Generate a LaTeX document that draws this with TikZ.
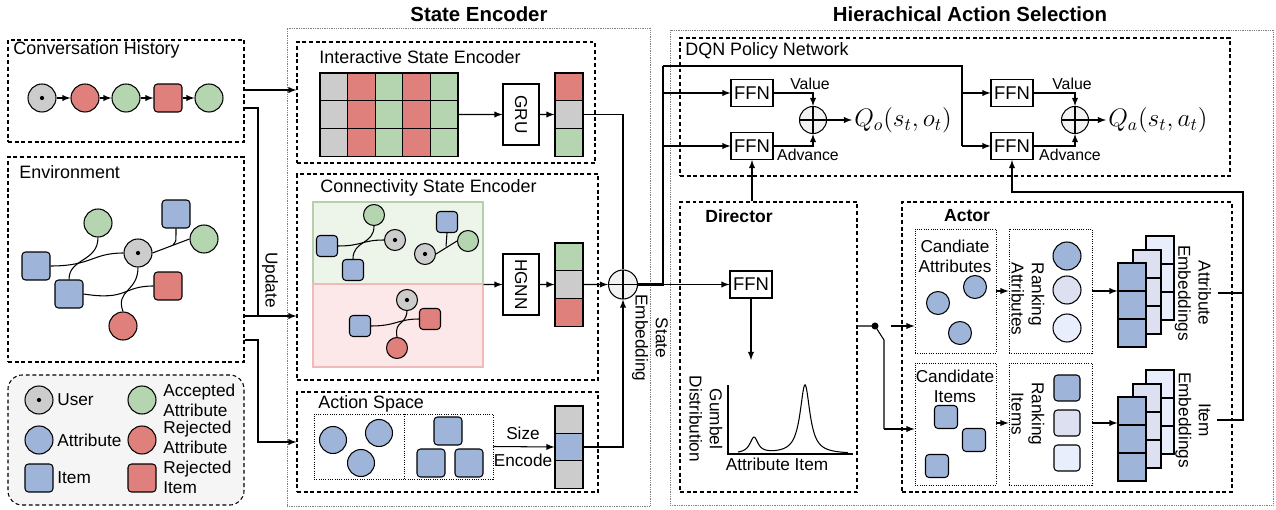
\documentclass[tikz,border=0pt]{standalone}
\usepackage{fontspec}
\setmainfont{Liberation Sans}
\usetikzlibrary{arrows,fit}
\definecolor{cgray}{RGB}{204,204,204}
\definecolor{cred}{RGB}{224,128,124}
\definecolor{cgreen}{RGB}{180,213,176}
\definecolor{cblue}{RGB}{158,180,216}
\definecolor{clav}{RGB}{221,224,240}
\definecolor{cpale}{RGB}{232,238,252}
\definecolor{pgreen}{RGB}{237,244,234}
\definecolor{pgreenl}{RGB}{182,207,172}
\definecolor{pred}{RGB}{252,232,232}
\definecolor{predl}{RGB}{240,186,186}
\tikzset{
  box/.style={draw, dash pattern=on 2.2pt off 1.6pt, inner sep=0pt},
  outer/.style={draw=gray, line width=0.4pt, dash pattern=on 0.4pt off 0.6pt, inner sep=0pt},
  dotbox/.style={draw, line width=0.5pt, dash pattern=on 0.5pt off 0.8pt, inner sep=0pt},
  usernode/.style={circle, draw, fill=cgray, inner sep=0pt, minimum size=#1,
    path picture={\fill[black] (path picture bounding box.center) circle (1.2pt);}},
  usernode/.default=0.56cm,
  attrnode/.style={circle, draw, fill=cblue, inner sep=0pt, minimum size=#1},
  attrnode/.default=0.56cm,
  accnode/.style={attrnode=#1, fill=cgreen}, accnode/.default=0.56cm,
  rejnode/.style={attrnode=#1, fill=cred}, rejnode/.default=0.56cm,
  itemnode/.style={rectangle, rounded corners=2pt, draw, fill=cblue, inner sep=0pt, minimum size=#1},
  itemnode/.default=0.56cm,
  rejitem/.style={itemnode=#1, fill=cred}, rejitem/.default=0.56cm,
  ffn/.style={draw, fill=white, minimum width=0.84cm, minimum height=0.54cm, inner sep=1pt, font=\fontsize{10.5}{12}\selectfont},
  encbox/.style={draw, fill=white, minimum width=0.72cm, minimum height=1.22cm, inner sep=0pt},
  oplus/.style={circle, draw, fill=gray!10, minimum size=#1, inner sep=0pt,
    path picture={\draw (path picture bounding box.north) -- (path picture bounding box.south)
      (path picture bounding box.west) -- (path picture bounding box.east);}},
  oplus/.default=0.56cm,
  lbl/.style={font=\fontsize{9}{10}\selectfont, inner sep=1pt},
  ttl/.style={font=\fontsize{11.6}{13}\selectfont\bfseries},
  sublbl/.style={font=\fontsize{10}{12}\selectfont\bfseries},
  frlbl/.style={anchor=west, font=\fontsize{10.2}{12}\selectfont},
}
\begin{document}
\begin{tikzpicture}[x=0.02cm,y=-0.02cm,line width=0.6pt,
  every node/.style={font=\fontsize{9.8}{11.5}\selectfont}]
\useasboundingbox (0,0) rectangle (1276,510);
% outer frames and titles
\node[outer, fit={(287,28)(650,506)}] (se) {};
\node[outer, fit={(670,30)(1273,505)}] (has) {};
\node[ttl] (setitle) at (479,14) {State Encoder};
\node[ttl] (hastitle) at (970,14) {Hierachical Action Selection};

% conversation history
\node[box, fit={(8,40)(244,142)}] (hist) {};
\node[frlbl] (histl) at (7,50) {Conversation History};
\node[usernode] (h1) at (42,98) {};
\node[rejnode] (h2) at (85,98) {};
\node[accnode] (h3) at (126,98) {};
\node[rejitem] (h4) at (168,98) {};
\node[accnode] (h5) at (209,98) {};
\foreach \a/\b in {h1/h2,h2/h3,h3/h4,h4/h5} \draw[-latex] (\a) -- (\b);

% environment
\node[box, fit={(8,157)(244,362)}] (env) {};
\node[frlbl] (envl) at (13,172) {Environment};
\node[itemnode] (e1) at (36,266) {};
\node[accnode] (e2) at (98,223) {};
\node[itemnode] (e3) at (176,214) {};
\node[accnode] (e4) at (204,239) {};
\node[usernode] (eu) at (138,253) {};
\node[itemnode] (e5) at (69,294) {};
\node[rejitem] (e6) at (168,286) {};
\node[rejnode] (e7) at (123,326) {};
\draw (e1.east) .. controls (92,266) and (92,253) .. (eu.west);
\draw (e2.south) .. controls (98,262) and (69,258) .. (e5.north);
\draw (eu.east) -- (e4.west);
\draw (173,245) .. controls (176,243) .. (e3.south);
\draw (eu.south) .. controls (138,292) and (115,290) .. (e7.north);
\draw (e5.east) .. controls (128,301) and (122,286) .. (e6.west);

% legend
\node[box, fit={(8,375)(244,505)}, rounded corners=8pt, fill=gray!8] (legend) {};
\node[usernode] (lu) at (39,400) {};
\node[attrnode] (la) at (39,440) {};
\node[itemnode] (li) at (39,478) {};
\node[accnode] (lacc) at (142,400) {};
\node[rejnode] (lrej) at (142,440) {};
\node[rejitem] (lri) at (142,478) {};
\node[anchor=west] (lut) at (51,400) {User};
\node[anchor=west] (lat) at (51,440) {Attribute};
\node[anchor=west] (lit) at (51,478) {Item};
\node[anchor=west, align=left] (lacct) at (157,400) {Accepted\\Attribute};
\node[anchor=west, align=left] (lrejt) at (157,437) {Rejected\\Attribute};
\node[anchor=west, align=left] (lrit) at (157,477) {Rejected\\Item};

% interactive state encoder
\node[box, fit={(297,42)(595,163)}] (ise) {};
\node[frlbl] (isel) at (313,57) {Interactive State Encoder};
\foreach \c [count=\i from 0] in {cgray,cred,cgreen,cred,cgreen}
  \foreach \j in {0,1,2}
    \draw[fill=\c] (320+27.6*\i,73+27.7*\j) rectangle ++(27.6,27.7);
\node[fit={(320,73)(458,156)}, inner sep=0pt] (grid) {};
\node[encbox] (gru) at (521,114.5) {\rotatebox{-90}{GRU}};
\foreach \c [count=\j from 0] in {cred,cgray,cgreen}
  \draw[fill=\c] (555,73+27.7*\j) rectangle ++(28,27.7);
\node[fit={(555,73)(583,156)}, inner sep=0pt] (vise) {};
\draw[-latex] (grid.east) -- (gru.west);
\draw[-latex] (gru.east) -- (vise.west);

% connectivity state encoder
\node[box, fit={(297,174)(598,380)}] (cse) {};
\node[frlbl] (csel) at (314,188) {Connectivity State Encoder};
\node[draw=pgreenl, fill=pgreen, fit={(313,202)(483,284)}, inner sep=0pt] (gpane) {};
\node[draw=predl, fill=pred, fit={(313,284)(483,367)}, inner sep=0pt] (rpane) {};
\node[fit={(313,202)(483,367)}, inner sep=0pt] (panes) {};
\node[accnode=0.42cm] (c1) at (374,215) {};
\node[itemnode=0.42cm] (c2) at (327,246) {};
\node[usernode=0.42cm] (c3) at (395,240) {};
\node[itemnode=0.42cm] (c4) at (353,270) {};
\draw (c2.east) .. controls (362,246) and (362,240) .. (c3.west);
\draw (c1.south) .. controls (374,245) and (353,240) .. (c4.north);
\node[itemnode=0.42cm] (c5) at (447,222) {};
\node[usernode=0.42cm] (c6) at (425,254) {};
\node[accnode=0.42cm] (c7) at (468,241) {};
\draw (c6.east) -- (c7.west);
\draw (446,246.5) .. controls (447,240) .. (c5.south);
\node[usernode=0.42cm] (c8) at (407,300) {};
\node[itemnode=0.42cm] (c9) at (360,326) {};
\node[rejitem=0.42cm] (c10) at (430,319) {};
\node[rejnode=0.42cm] (c11) at (397,348) {};
\draw (c9.east) .. controls (396,326) and (398,319) .. (c10.west);
\draw (c8.south) .. controls (406,326) and (394,320) .. (c11.north);
\node[encbox] (hgnn) at (521,284.5) {\rotatebox{-90}{HGNN}};
\foreach \c [count=\j from 0] in {cgreen,cgray,cred}
  \draw[fill=\c] (555,243+27.7*\j) rectangle ++(28,27.7);
\node[fit={(555,243)(583,326)}, inner sep=0pt] (vcse) {};
\draw[-latex] (panes.east) -- (hgnn.west);
\draw[-latex] (hgnn.east) -- (vcse.west);

% action space
\node[box, fit={(297,392)(598,492)}] (as) {};
\node[frlbl] (asl) at (312,404) {Action Space};
\node[dotbox, fit={(314,414)(493,479)}] (aspace) {};
\draw[dotbox] (404,414) -- (404,479);
\node[attrnode=0.54cm] (s1) at (333,440) {};
\node[attrnode=0.54cm] (s2) at (379,433) {};
\node[attrnode=0.54cm] (s3) at (361,463) {};
\node[itemnode] (s4) at (448,431) {};
\node[itemnode] (s5) at (431,463) {};
\node[itemnode] (s6) at (469,463) {};
\foreach \c [count=\j from 0] in {cgray,cblue,cgray}
  \draw[fill=\c] (555,406+27.4*\j) rectangle ++(28,27.4);
\node[fit={(555,406)(583,488)}, inner sep=0pt] (vas) {};
\draw[-latex] (aspace.east) -- (vas.west);
\node (sz) at (523,433) {Size};
\node (enc) at (523,460) {Encode};

% state embedding
\node[oplus=0.58cm] (op) at (623,284.5) {};
\draw (vise.east) -| (op.north);
\draw[-latex] (vcse.east) -- (op.west);
\draw[-latex] (vas.east) -| (op.south);
\node[rotate=-90, align=center] (sel) at (650,338) {State\\Embedding};

% inputs from the left
\coordinate (y90) at (0,90);
\coordinate (y108) at (0,108);
\coordinate (y316) at (0,316);
\coordinate (y340) at (0,340);
\coordinate (uj) at (258,316);
\coordinate (aj) at (258,442);
\draw[-latex] (hist.east |- y90) -- (ise.west |- y90);
\draw (hist.east |- y108) -| (uj);
\draw[-latex] (env.east |- y316) -- (cse.west |- y316);
\draw[-latex] (env.east |- y340) -| (aj) -- (as.west |- aj);
\node[rotate=-90] (upd) at (270,280) {Update};

% DQN policy network
\node[box, fit={(680,38)(1230,176)}] (dqn) {};
\node[frlbl] (dqnl) at (679,51) {DQN Policy Network};
\node[ffn] (ffn1) at (752,93) {FFN};
\node[ffn] (ffn2) at (752,146) {FFN};
\node[ffn] (ffn3) at (1012,93) {FFN};
\node[ffn] (ffn4) at (1012,146) {FFN};
\node[oplus=0.54cm] (op1) at (813,120) {};
\node[oplus=0.54cm] (op2) at (1075,120) {};
\draw[-latex] (ffn1.east) -| (op1.north);
\draw[-latex] (ffn2.east) -| (op1.south);
\draw[-latex] (ffn3.east) -| (op2.north);
\draw[-latex] (ffn4.east) -| (op2.south);
\node[lbl] (val1) at (810,84) {Value};
\node[lbl] (adv1) at (808,155) {Advance};
\node[lbl] (val2) at (1072,84) {Value};
\node[lbl] (adv2) at (1070,155) {Advance};
\node[anchor=west, inner sep=1pt, font=\Large] (qo) at (852,120) {$Q_o(s_t,o_t)$};
\node[anchor=west, inner sep=1pt, font=\Large] (qa) at (1106,120) {$Q_a(s_t,a_t)$};
\draw[-latex] (op1.east) -- (qo.west);
\draw[-latex] (op2.east) -- (qa.west);

% trunk from the state embedding
\coordinate (tj) at (663,284.5);
\coordinate (ttop) at (663,66);
\coordinate (tright) at (962,66);
\coordinate (tbot) at (962,146);
\draw[line width=1.2pt] (op.east) -- (tj) -- (ttop);
\draw (ttop) -- (tright) -- (tbot);
\draw[-latex] (tj |- ffn1) -- (ffn1.west);
\draw[-latex] (tj |- ffn2) -- (ffn2.west);
\draw[-latex] (tright |- ffn3) -- (ffn3.west);
\draw[-latex] (tbot) -- (ffn4.west);

% director
\node[box, fit={(680,202)(857,492)}] (director) {};
\node[sublbl] (dirl) at (739,216) {Director};
\node[ffn] (ffn5) at (751,284.5) {FFN};
\draw[-latex] (tj) -- (ffn5.west);
\draw[-latex] (ffn2 |- director.north) -- (ffn2.south);
\coordinate (gtop) at (751,360);
\draw[-latex] (ffn5.south) -- (gtop);
\draw (728,385) -- (728,454) -- (853,454);
\draw[domain=738:848, samples=160, smooth]
  plot (\x, {454 - 16/(1+((\x-754)/5)^2) - 69/(1+((\x-805)/6)^2)});
\node (gx) at (777,464) {Attribute Item};
\node[rotate=-90, align=center] (glab) at (706,419) {Gumbel\\Distribution};

% actor
\node[box, fit={(902,202)(1232,492)}] (actor) {};
\node[sublbl] (actl) at (967,216) {Actor};
\node[dotbox, fit={(915,229)(996,353)}] (cattr) {};
\node[align=center] (cattrl) at (955,256) {Candiate\\Attributes};
\node[attrnode=0.46cm] (ca1) at (938,303) {};
\node[attrnode=0.46cm] (ca2) at (975,287) {};
\node[attrnode=0.46cm] (ca3) at (960,333) {};
\node[dotbox, fit={(1009,229)(1092,353)}] (rattr) {};
\node[rotate=-90, align=left] (rattrl) at (1028,299) {Ranking\\Attributes};
\node[attrnode] (ra1) at (1067,256) {};
\node[attrnode, fill=clav] (ra2) at (1067,290) {};
\node[attrnode, fill=cpale] (ra3) at (1067,328) {};
\node[dotbox, fit={(915,363)(996,485)}] (citem) {};
\node[align=center] (citeml) at (955,386) {Candidate\\Items};
\node[itemnode=0.46cm] (ci1) at (946,417) {};
\node[itemnode=0.46cm] (ci2) at (974,440) {};
\node[itemnode=0.46cm] (ci3) at (937,466) {};
\node[dotbox, fit={(1009,363)(1092,485)}] (ritem) {};
\node[rotate=-90, align=center] (riteml) at (1028,414) {Ranking\\Items};
\node[itemnode=0.52cm] (ri1) at (1067,388) {};
\node[itemnode=0.52cm, fill=clav] (ri2) at (1067,423) {};
\node[itemnode=0.52cm, fill=cpale] (ri3) at (1067,458) {};

% embedding stacks
\foreach \top in {263,397}
  \foreach \dx/\dy/\c in {28/-27/cpale,15/-13/clav,0/0/cblue}
    \foreach \j in {0,1,2}
      \draw[fill=\c] (1118+\dx,\top+\dy+28*\j) rectangle ++(28,28);
\node[fit={(1118,263)(1146,347)}, inner sep=0pt] (afront) {};
\node[fit={(1118,397)(1146,481)}, inner sep=0pt] (ifront) {};
\node[rotate=-90, align=center] (alab) at (1193,293) {Attribute\\Embeddings};
\node[rotate=-90, align=center] (ilab) at (1193,420) {Item\\Embeddings};

\coordinate (ay) at (0,291);
\coordinate (iy) at (0,423);
\draw[-latex] (cattr.east |- ay) -- (rattr.west |- ay);
\draw[-latex] (rattr.east |- ay) -- (afront.west |- ay);
\draw[-latex] (citem.east |- iy) -- (ritem.west |- iy);
\draw[-latex] (ritem.east |- iy) -- (ifront.west |- iy);

% switch between director and actor
\coordinate (sw) at (875,326);
\coordinate (swa) at (891,326);
\coordinate (swb) at (884,340);
\coordinate (swc) at (884,429);
\draw (director.east |- sw) -- (sw) -- (swb) -- (swc);
\draw[-latex] (swc) -- (citem.west |- swc);
\draw[-latex] (swa) -- (cattr.west |- swa);
\fill (sw) circle (2pt);

% feedback to the second network
\coordinate (rj1) at (1243,192);
\coordinate (rj2) at (1243,420);
\draw (alab.north) -- (alab.north -| rj1);
\draw[-latex] (ilab.north) -- (rj2) -- (rj1) -| (ffn4.south);
\end{tikzpicture}
\end{document}
